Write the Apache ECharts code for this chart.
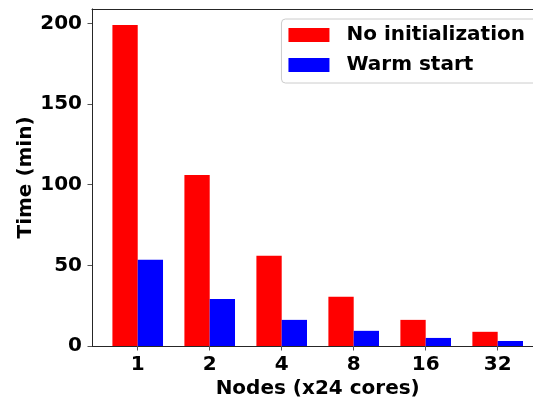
<!DOCTYPE html>
<html>
<head>
<meta charset="utf-8">
<script src="https://cdn.jsdelivr.net/npm/echarts@6/dist/echarts.min.js"></script>
<style>
  html, body { margin: 0; padding: 0; background: #fff; }
  #chart { width: 533px; height: 400px; }
</style>
</head>
<body>
<div id="chart"></div>
<script>
// Node counts (each node has 24 cores) and run times in minutes
const nodeLabels = ['1', '2', '4', '8', '16', '32'];
const noInitTimes = [199, 106, 56, 30.5, 16.2, 8.8];
const warmStartTimes = [53.4, 29.2, 16.2, 9.4, 5.0, 3.1];
const yTicks = [0, 50, 100, 150, 200];

const FONT = 'DejaVu Sans';
const AXIS_COLOR = '#262626';
const TICK_COLOR = '#555555';
const positions = nodeLabels.map((_, i) => i);
const X_MIN = -0.635;
const X_MAX = 5.635;

const chart = echarts.init(document.getElementById('chart'), null, { renderer: 'canvas' });

chart.setOption({
  animation: false,
  backgroundColor: '#ffffff',
  textStyle: { fontFamily: FONT },
  grid: {
    left: 92,
    width: 451.4,
    top: 8.9,
    bottom: 54,
    outerBoundsMode: 'none',
    containLabel: false,
    show: false
  },
  legend: {
    orient: 'vertical',
    right: -6,
    top: 19,
    padding: [6, 14, 8, 7],
    itemWidth: 41,
    itemHeight: 14,
    itemGap: 10,
    icon: 'rect',
    backgroundColor: 'rgba(255,255,255,0.85)',
    borderColor: '#cccccc',
    borderWidth: 1,
    borderRadius: 4,
    textStyle: {
      fontFamily: FONT,
      fontWeight: 'bold',
      fontSize: 20,
      color: '#000',
      padding: [0, 0, 0, 12]
    },
    data: ['No initialization', 'Warm start']
  },
  xAxis: [
    {
      type: 'value',
      min: X_MIN,
      max: X_MAX,
      name: 'Nodes (x24 cores)',
      nameLocation: 'middle',
      nameGap: 33,
      nameMoveOverlap: false,
      nameTextStyle: { fontFamily: FONT, fontWeight: 'bold', fontSize: 20, color: '#000' },
      axisLine: { show: true, onZero: false, lineStyle: { color: AXIS_COLOR, width: 1 } },
      axisTick: { show: true, length: 4.5, customValues: positions, lineStyle: { color: TICK_COLOR } },
      axisLabel: {
        customValues: positions,
        formatter: v => nodeLabels[Math.round(v)],
        fontFamily: FONT, fontWeight: 'bold', fontSize: 20, color: '#000', margin: 9
      },
      splitLine: { show: false }
    },
    {
      // top frame line
      type: 'value',
      position: 'top',
      min: X_MIN,
      max: X_MAX,
      axisLine: { show: true, onZero: false, lineStyle: { color: AXIS_COLOR, width: 1 } },
      axisTick: { show: false },
      axisLabel: { show: false },
      splitLine: { show: false }
    }
  ],
  yAxis: {
    type: 'value',
    min: 0,
    max: 209,
    name: 'Time (min)',
    nameLocation: 'middle',
    nameRotate: 90,
    nameGap: 56,
    nameMoveOverlap: false,
    nameTextStyle: { fontFamily: FONT, fontWeight: 'bold', fontSize: 20, color: '#000' },
    axisLine: { show: true, onZero: false, lineStyle: { color: AXIS_COLOR, width: 1 } },
    axisTick: { show: true, length: 4.5, customValues: yTicks, lineStyle: { color: TICK_COLOR } },
    axisLabel: {
      customValues: yTicks,
      fontFamily: FONT, fontWeight: 'bold', fontSize: 20, color: '#000', margin: 10
    },
    splitLine: { show: false }
  },
  series: [
    {
      name: 'No initialization',
      type: 'bar',
      barWidth: 25.3,
      barGap: '0%',
      itemStyle: { color: '#ff0000' },
      data: positions.map((x, i) => [x, noInitTimes[i]])
    },
    {
      name: 'Warm start',
      type: 'bar',
      barWidth: 25.3,
      barGap: '0%',
      itemStyle: { color: '#0000ff' },
      data: positions.map((x, i) => [x, warmStartTimes[i]])
    }
  ]
});
</script>
</body>
</html>
